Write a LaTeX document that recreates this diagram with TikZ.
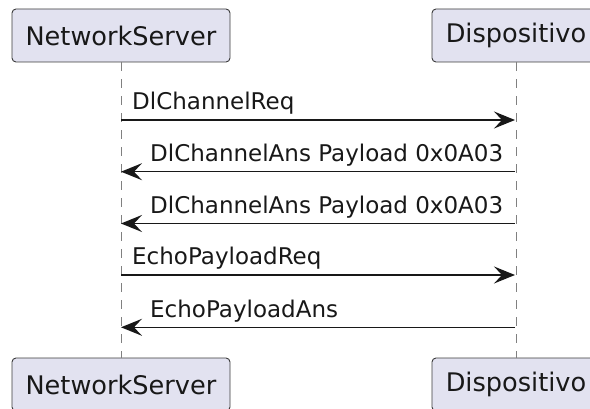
\documentclass[tikz,border=0pt]{standalone}
\usepackage{fontspec}
\setmainfont{DejaVu Sans}
\usetikzlibrary{arrows.meta}
\definecolor{partfill}{HTML}{E2E2F0}
\definecolor{partline}{HTML}{181818}
\tikzset{
  participant/.style={draw=partline!85, fill=partfill, line width=0.9pt,
    rounded corners=4pt, minimum width=218pt, minimum height=53pt,
    inner sep=0pt, font=\fontsize{25.6}{30}\selectfont, text=partline},
  lifeline/.style={draw=partline!55, line width=1pt, dash pattern=on 8.5pt off 8.5pt},
  msg/.style={draw=partline, line width=1.5pt,
    -{Stealth[length=21pt, width=17pt, inset=8pt]}},
  msglabel/.style={anchor=base west, inner sep=0pt,
    font=\fontsize{23}{27}\selectfont, text=partline}
}
\begin{document}
\begin{tikzpicture}[x=1pt, y=-1pt]
  \useasboundingbox (0,0) rectangle (590,409);

  % participants, top and bottom
  \node[participant] (nsTop) at (121,35.5) {NetworkServer};
  \node[participant, minimum width=168pt] (dvTop) at (516,35.5) {Dispositivo};
  \node[participant] (nsBot) at (121,384.5) {NetworkServer};
  \node[participant, minimum width=168pt] (dvBot) at (516,384.5) {Dispositivo};

  % lifelines
  \draw[lifeline] (nsTop.south) -- (nsBot.north);
  \draw[lifeline] (dvTop.south) -- (dvBot.north);

  % message end points on the lifelines
  \foreach \i/\y in {1/120, 2/171.7, 3/223.5, 4/275, 5/327.3} {
    \coordinate (ns\i) at (121,\y);
    \coordinate (dv\i) at (515,\y);
  }

  % messages
  \draw[msg] (ns1) -- (dv1);
  \node[msglabel] (m1) at (132,110) {DlChannelReq};

  \draw[msg] (dv2) -- (ns2);
  \node[msglabel] (m2) at (150,161.7) {DlChannelAns Payload 0x0A03};

  \draw[msg] (dv3) -- (ns3);
  \node[msglabel] (m3) at (150,213.5) {DlChannelAns Payload 0x0A03};

  \draw[msg] (ns4) -- (dv4);
  \node[msglabel] (m4) at (132,265) {EchoPayloadReq};

  \draw[msg] (dv5) -- (ns5);
  \node[msglabel] (m5) at (150,317.3) {EchoPayloadAns};
\end{tikzpicture}
\end{document}
